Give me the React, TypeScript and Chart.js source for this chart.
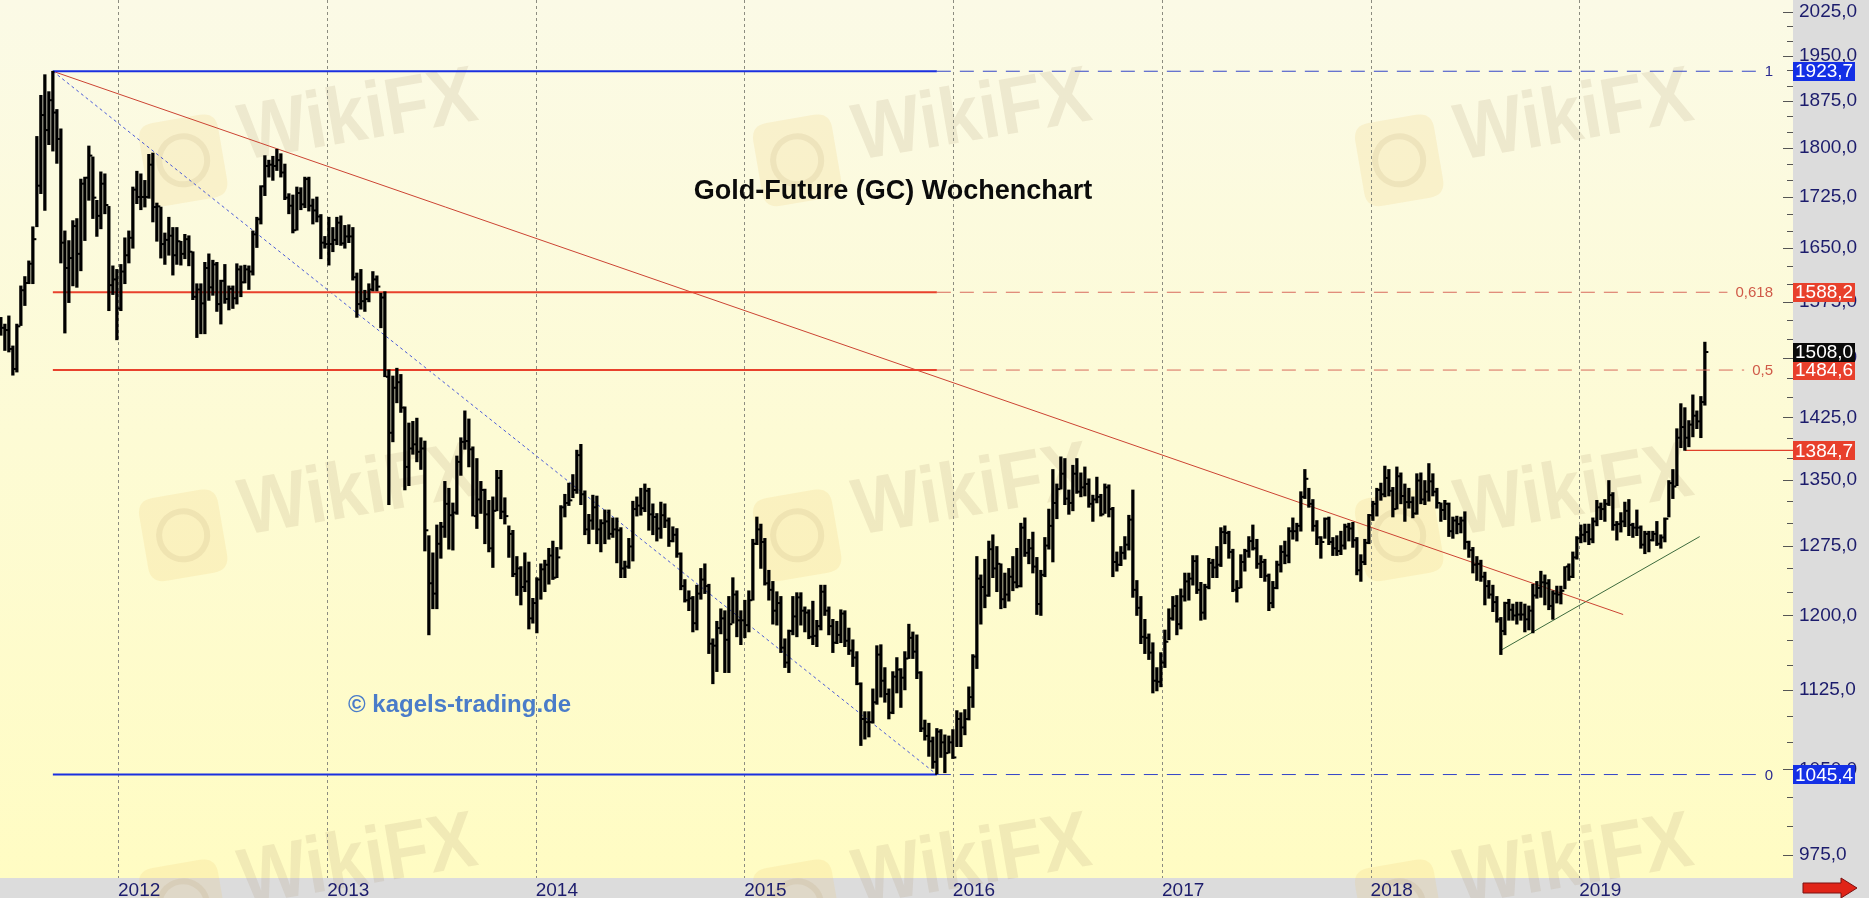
import React, { useEffect, useRef } from "react";
import { Chart, registerables } from "chart.js";

Chart.register(...registerables);

// ---------- DATA ----------
// Weekly gold future bars [high, low, close], first bar = week ending Friday 2011-06-10
const FIRST_BAR_FRIDAY = "2011-06-10";

const bars2011: number[][] = [
  [1554, 1530, 1540], [1545, 1510, 1537], [1556, 1508, 1512], [1516, 1478, 1486], [1545, 1482, 1542],
  [1597, 1543, 1591], [1610, 1570, 1601], [1632, 1600, 1628], [1681, 1600, 1663], [1818, 1681, 1742],
  [1884, 1730, 1852], [1918, 1705, 1828], [1890, 1805, 1876], [1923.7, 1795, 1856], [1861, 1776, 1814],
  [1830, 1629, 1658], [1675, 1533, 1622], [1661, 1574, 1636], [1690, 1597, 1682], [1693, 1595, 1642],
  [1752, 1618, 1745], [1755, 1661, 1754], [1803, 1720, 1788], [1786, 1693, 1724], [1720, 1667, 1697],
  [1763, 1678, 1745], [1760, 1700, 1713], [1711, 1563, 1598], [1625, 1585, 1606], [1620, 1524, 1566],
];
const bars2012: number[][] = [
  [1627, 1563, 1617], [1665, 1600, 1640], [1675, 1629, 1665], [1740, 1650, 1736], [1764, 1715, 1725],
  [1760, 1706, 1725], [1750, 1710, 1725], [1790, 1723, 1774], [1792, 1688, 1710], [1716, 1660, 1711],
  [1710, 1636, 1656], [1672, 1627, 1662], [1695, 1640, 1668], [1680, 1612, 1640], [1680, 1627, 1660],
  [1660, 1626, 1642], [1670, 1635, 1663], [1668, 1625, 1645], [1645, 1578, 1582], [1600, 1527, 1592],
  [1600, 1532, 1573], [1630, 1532, 1622], [1642, 1577, 1595], [1633, 1584, 1627], [1630, 1562, 1572],
  [1605, 1545, 1604], [1627, 1573, 1579], [1597, 1564, 1593], [1597, 1566, 1580], [1628, 1572, 1620],
  [1625, 1582, 1602], [1626, 1601, 1620], [1625, 1592, 1617], [1675, 1612, 1670], [1695, 1651, 1692],
  [1742, 1685, 1741], [1788, 1727, 1772], [1781, 1755, 1774], [1787, 1750, 1772], [1798, 1765, 1781],
  [1791, 1755, 1762], [1775, 1721, 1724], [1730, 1700, 1712], [1728, 1672, 1676], [1740, 1676, 1731],
  [1739, 1706, 1714], [1755, 1709, 1752], [1755, 1704, 1712], [1722, 1685, 1705], [1725, 1688, 1696],
  [1699, 1635, 1658], [1667, 1650, 1656], [1695, 1626, 1656],
];
const bars2013: number[][] = [
  [1680, 1645, 1662], [1695, 1655, 1687], [1697, 1654, 1657], [1683, 1650, 1667], [1684, 1658, 1667],
  [1680, 1605, 1609], [1615, 1554, 1572], [1620, 1565, 1576], [1591, 1562, 1579], [1600, 1575, 1592],
  [1617, 1590, 1606], [1611, 1590, 1596], [1587, 1540, 1581], [1589, 1476, 1476], [1485, 1321, 1406],
  [1477, 1395, 1462], [1487, 1443, 1469], [1479, 1431, 1437], [1438, 1338, 1365], [1418, 1343, 1387],
  [1420, 1380, 1392], [1424, 1371, 1383], [1400, 1362, 1387], [1396, 1269, 1292], [1286, 1180, 1234],
  [1267, 1207, 1223], [1298, 1207, 1277], [1301, 1261, 1296], [1348, 1284, 1322], [1340, 1271, 1309],
  [1323, 1270, 1312], [1378, 1310, 1371], [1400, 1355, 1395], [1433, 1386, 1396], [1423, 1365, 1386],
  [1389, 1308, 1308], [1375, 1294, 1327], [1348, 1311, 1338], [1339, 1277, 1310], [1326, 1268, 1272],
  [1330, 1251, 1314], [1361, 1314, 1352], [1361, 1305, 1313], [1329, 1299, 1308], [1297, 1262, 1288],
  [1292, 1241, 1244], [1263, 1221, 1250], [1252, 1211, 1230], [1267, 1225, 1236], [1257, 1186, 1197],
  [1218, 1192, 1213], [1240, 1182, 1238],
];
const bars2014: number[][] = [
  [1255, 1217, 1249], [1259, 1225, 1254], [1272, 1233, 1264], [1280, 1238, 1240], [1273, 1240, 1262],
  [1320, 1271, 1318], [1333, 1307, 1323], [1346, 1320, 1326], [1356, 1329, 1338], [1385, 1334, 1379],
  [1392, 1321, 1333], [1337, 1287, 1293], [1310, 1277, 1303], [1332, 1293, 1318], [1331, 1277, 1293],
  [1304, 1268, 1300], [1315, 1277, 1302], [1315, 1282, 1288], [1306, 1284, 1293], [1306, 1256, 1292],
  [1295, 1240, 1250], [1258, 1240, 1252], [1283, 1250, 1274], [1325, 1258, 1316], [1330, 1308, 1320],
  [1340, 1309, 1317], [1345, 1313, 1337], [1340, 1292, 1310], [1322, 1287, 1307], [1311, 1280, 1294],
  [1324, 1283, 1309], [1322, 1295, 1303], [1306, 1274, 1280], [1296, 1279, 1287], [1294, 1262, 1266],
  [1267, 1227, 1231], [1238, 1214, 1216], [1226, 1205, 1218], [1220, 1183, 1192], [1232, 1185, 1223],
  [1250, 1217, 1238], [1255, 1223, 1231], [1233, 1161, 1171], [1176, 1131, 1169], [1194, 1143, 1187],
  [1207, 1181, 1197], [1205, 1142, 1175], [1220, 1142, 1191], [1240, 1192, 1222], [1226, 1178, 1195],
  [1205, 1170, 1195], [1216, 1177, 1190],
];
const bars2015: number[][] = [
  [1226, 1183, 1216], [1282, 1216, 1277], [1307, 1276, 1293], [1299, 1250, 1279], [1283, 1232, 1234],
  [1248, 1216, 1227], [1236, 1191, 1205], [1225, 1190, 1213], [1220, 1162, 1167], [1176, 1147, 1152],
  [1185, 1142, 1184], [1220, 1180, 1199], [1224, 1178, 1219], [1224, 1190, 1205], [1209, 1183, 1203],
  [1206, 1176, 1178], [1215, 1170, 1179], [1195, 1168, 1189], [1232, 1185, 1225], [1232, 1200, 1205],
  [1209, 1180, 1189], [1196, 1162, 1172], [1194, 1171, 1180], [1206, 1172, 1202], [1205, 1168, 1174],
  [1187, 1160, 1164], [1175, 1148, 1157], [1163, 1130, 1131], [1132, 1072, 1097], [1104, 1078, 1094],
  [1104, 1080, 1094], [1126, 1093, 1113], [1169, 1111, 1160], [1170, 1118, 1134], [1147, 1113, 1121],
  [1126, 1097, 1103], [1143, 1102, 1138], [1157, 1122, 1145], [1146, 1108, 1137], [1163, 1125, 1156],
  [1191, 1156, 1177], [1183, 1156, 1163], [1180, 1136, 1142], [1143, 1085, 1088], [1096, 1077, 1081],
  [1093, 1062, 1076], [1080, 1051, 1057], [1088, 1045.4, 1085], [1087, 1061, 1075], [1082, 1047, 1065],
  [1081, 1065, 1075], [1087, 1060, 1061],
];
const bars2016: number[][] = [
  [1105, 1071, 1097], [1103, 1071, 1089], [1106, 1082, 1097], [1128, 1096, 1118], [1160, 1108, 1158],
  [1263, 1146, 1239], [1243, 1191, 1230], [1260, 1208, 1221], [1280, 1220, 1271], [1287, 1240, 1250],
  [1274, 1225, 1255], [1255, 1207, 1217], [1245, 1208, 1222], [1250, 1215, 1241], [1263, 1226, 1235],
  [1272, 1229, 1231], [1300, 1230, 1295], [1306, 1263, 1267], [1282, 1255, 1272], [1290, 1245, 1252],
  [1262, 1201, 1212], [1248, 1200, 1243], [1284, 1241, 1275], [1316, 1271, 1297], [1362, 1257, 1323],
  [1345, 1305, 1339], [1377, 1339, 1357], [1375, 1321, 1328], [1338, 1310, 1323], [1367, 1314, 1357],
  [1375, 1334, 1336], [1358, 1330, 1341], [1365, 1331, 1345], [1351, 1318, 1322], [1332, 1302, 1327],
  [1353, 1323, 1330], [1333, 1308, 1310], [1345, 1311, 1341], [1344, 1307, 1316], [1318, 1241, 1257],
  [1268, 1247, 1254], [1274, 1253, 1267], [1285, 1260, 1276], [1309, 1270, 1304], [1338, 1219, 1227],
  [1237, 1200, 1208], [1220, 1171, 1178], [1196, 1161, 1177], [1181, 1155, 1162], [1172, 1122, 1134],
  [1147, 1124, 1133], [1162, 1128, 1152],
];
const bars2017: number[][] = [
  [1185, 1147, 1173], [1207, 1175, 1197], [1220, 1195, 1210], [1221, 1180, 1191], [1228, 1186, 1220],
  [1245, 1215, 1236], [1245, 1216, 1239], [1264, 1232, 1258], [1264, 1223, 1227], [1235, 1195, 1203],
  [1233, 1196, 1230], [1261, 1228, 1256], [1260, 1240, 1251], [1274, 1240, 1254], [1295, 1252, 1290],
  [1297, 1277, 1289], [1291, 1261, 1268], [1271, 1225, 1227], [1237, 1214, 1229], [1265, 1229, 1257],
  [1271, 1247, 1269], [1285, 1262, 1280], [1298, 1270, 1272], [1282, 1250, 1255], [1264, 1240, 1257],
  [1260, 1236, 1242], [1244, 1205, 1213], [1236, 1208, 1229], [1258, 1228, 1254], [1275, 1246, 1268],
  [1280, 1255, 1264], [1295, 1256, 1291], [1306, 1282, 1291], [1300, 1280, 1297], [1336, 1291, 1330],
  [1362, 1328, 1351], [1340, 1318, 1322], [1327, 1291, 1297], [1303, 1276, 1284], [1285, 1261, 1279],
  [1306, 1283, 1305], [1307, 1276, 1279], [1284, 1264, 1272], [1286, 1264, 1269], [1291, 1265, 1275],
  [1299, 1271, 1296], [1300, 1280, 1294], [1301, 1273, 1281], [1284, 1243, 1248], [1265, 1236, 1257],
  [1282, 1254, 1278], [1310, 1277, 1309],
];
const bars2018: number[][] = [
  [1325, 1303, 1322], [1340, 1308, 1338], [1346, 1326, 1333], [1366, 1330, 1352], [1362, 1331, 1337],
  [1341, 1307, 1316], [1365, 1316, 1354], [1358, 1322, 1331], [1345, 1302, 1324], [1340, 1317, 1324],
  [1330, 1306, 1311], [1357, 1310, 1349], [1358, 1322, 1327], [1349, 1321, 1336], [1369, 1325, 1348],
  [1357, 1331, 1336], [1340, 1317, 1323], [1323, 1302, 1315], [1326, 1304, 1322], [1323, 1285, 1291],
  [1307, 1283, 1303], [1308, 1288, 1299], [1307, 1289, 1303], [1313, 1271, 1279], [1280, 1262, 1270],
  [1273, 1245, 1254], [1263, 1237, 1255], [1259, 1236, 1241], [1246, 1211, 1231], [1237, 1218, 1222],
  [1232, 1204, 1214], [1220, 1193, 1196], [1198, 1160, 1184], [1214, 1180, 1213], [1217, 1195, 1206],
  [1212, 1195, 1200], [1214, 1191, 1201], [1214, 1195, 1201], [1212, 1183, 1196], [1210, 1185, 1205],
  [1233, 1182, 1221], [1236, 1218, 1229], [1247, 1219, 1235], [1243, 1211, 1234], [1238, 1206, 1210],
  [1226, 1196, 1223], [1231, 1213, 1222], [1231, 1212, 1226], [1252, 1228, 1252], [1255, 1237, 1241],
  [1268, 1240, 1262], [1285, 1260, 1283],
];
const bars2019: number[][] = [
  [1298, 1278, 1287], [1299, 1279, 1290], [1299, 1276, 1282], [1306, 1278, 1302], [1326, 1297, 1318],
  [1323, 1304, 1316], [1327, 1302, 1322], [1349, 1320, 1332], [1335, 1292, 1298], [1302, 1281, 1299],
  [1312, 1290, 1302], [1324, 1296, 1314], [1327, 1286, 1298], [1300, 1284, 1295], [1315, 1286, 1295],
  [1297, 1272, 1276], [1291, 1266, 1288], [1291, 1268, 1281], [1291, 1280, 1288], [1302, 1275, 1277],
  [1287, 1272, 1284], [1306, 1279, 1305], [1349, 1307, 1346], [1362, 1328, 1342], [1411, 1343, 1400],
  [1442, 1388, 1413], [1437, 1384.7, 1400], [1421, 1389, 1416], [1453, 1401, 1427], [1433, 1411, 1420],
  [1451, 1400, 1444], [1521, 1440, 1508],
];

const yearLabels = ["2012", "2013", "2014", "2015", "2016", "2017", "2018", "2019"];
const yLabelValues = [975, 1050, 1125, 1200, 1275, 1350, 1425, 1500, 1575, 1650, 1725, 1800, 1875, 1950, 2025];
const yMinorValues = [1000, 1025, 1075, 1100, 1150, 1175, 1225, 1250, 1300, 1325, 1375, 1400, 1450, 1475,
  1525, 1550, 1600, 1625, 1675, 1700, 1750, 1775, 1825, 1850, 1900, 1925, 1975, 2000];

// Fibonacci retracement (peak 2011 -> low 2015)
const fibRatios = ["1", "0,618", "0,5", "0"];
const fibPrices = [1923.7, 1588.2, 1484.6, 1045.4];
const swingHigh = { date: "2011-09-09", price: 1923.7 };
const swingLow = { date: "2015-12-04", price: 1045.4 };
// trend lines
const resistanceLine = [{ date: "2011-09-09", price: 1923.7 }, { date: "2019-03-19", price: 1201 }];
const supportLine = [{ date: "2018-08-16", price: 1164 }, { date: "2019-07-31", price: 1285 }];
const supportLevel = { date: "2019-07-05", price: 1384.7 };
// price boxes on the right axis
const axisBoxValues = [1923.7, 1588.2, 1484.6, 1508.0, 1384.7, 1045.4];
const axisBoxKinds = ["blue", "red", "red", "black", "red", "blue"];

const TITLE = "Gold-Future (GC) Wochenchart";
const COPYRIGHT = "© kagels-trading.de";

// ---------- helpers ----------
const DAY = 86400000;
const ORIGIN = Date.UTC(2012, 0, 1);
const toX = (d: string) => (Date.parse(d + "T00:00:00Z") - ORIGIN) / (7 * DAY);
const fmt = (v: number) => v.toFixed(1).replace(".", ",");

const allBars = [...bars2011, ...bars2012, ...bars2013, ...bars2014, ...bars2015, ...bars2016, ...bars2017, ...bars2018, ...bars2019];
const x0 = toX(FIRST_BAR_FRIDAY);
const barData = allBars.map((b, i) => ({ x: x0 + i, y: [b[1], b[0]] }));
const closes = allBars.map((b) => b[2]);
const yearTicks = yearLabels.map((y) => toX(y + "-01-01"));

const FONT = '"Liberation Sans", Arial, sans-serif';
const BOX_COLORS: Record<string, string> = { blue: "#1430e6", red: "#e8402c", black: "#0a0a0a" };
const FIB_SOLID = ["#1a2fe0", "#e8412c", "#e8412c", "#1a2fe0"];
const FIB_DASH = ["#3344c8", "#d86a5c", "#d86a5c", "#3344c8"];
const FIB_TEXT = ["#2a2a90", "#d05a48", "#d05a48", "#2a2a90"];

function roundRect(ctx: CanvasRenderingContext2D, x: number, y: number, w: number, h: number, r: number) {
  ctx.beginPath();
  ctx.moveTo(x + r, y);
  ctx.lineTo(x + w - r, y);
  ctx.quadraticCurveTo(x + w, y, x + w, y + r);
  ctx.lineTo(x + w, y + h - r);
  ctx.quadraticCurveTo(x + w, y + h, x + w - r, y + h);
  ctx.lineTo(x + r, y + h);
  ctx.quadraticCurveTo(x, y + h, x, y + h - r);
  ctx.lineTo(x, y + r);
  ctx.quadraticCurveTo(x, y, x + r, y);
  ctx.closePath();
}

function drawWatermark(ctx: CanvasRenderingContext2D, x: number, y: number) {
  ctx.save();
  ctx.translate(x, y);
  ctx.rotate(-0.17);
  ctx.fillStyle = "rgba(236, 200, 110, 0.18)";
  roundRect(ctx, -100, -52, 80, 84, 16);
  ctx.fill();
  ctx.strokeStyle = "rgba(180, 150, 100, 0.14)";
  ctx.lineWidth = 6;
  ctx.beginPath();
  ctx.arc(-60, -10, 24, 0, Math.PI * 2);
  ctx.stroke();
  ctx.scale(0.9, 1);
  ctx.fillStyle = "rgba(170, 150, 115, 0.17)";
  ctx.font = `bold 80px ${FONT}`;
  ctx.textBaseline = "alphabetic";
  ctx.textAlign = "left";
  ctx.fillText("WikiFX", 0, 0);
  ctx.restore();
}

const backgroundPlugin = {
  id: "bgPlugin",
  beforeDraw(chart: any) {
    const { ctx, chartArea: a, width, height } = chart;
    ctx.save();
    ctx.fillStyle = "#dcdcdc";
    ctx.fillRect(0, 0, width, height);
    const g = ctx.createLinearGradient(0, a.top, 0, a.bottom);
    g.addColorStop(0, "#fbfae6");
    g.addColorStop(1, "#fffcc3");
    ctx.fillStyle = g;
    ctx.fillRect(a.left, a.top, a.right - a.left, a.bottom - a.top);
    ctx.beginPath();
    ctx.rect(a.left, a.top, a.right - a.left, height - a.top);
    ctx.clip();
    const cols = [244, 858, 1460];
    const rows = [160, 535, 905];
    rows.forEach((ry) => cols.forEach((cx) => drawWatermark(ctx, cx, ry)));
    ctx.restore();

    // year grid lines
    const xs = chart.scales.x;
    ctx.save();
    ctx.strokeStyle = "#8c8c80";
    ctx.lineWidth = 1;
    ctx.setLineDash([3, 3]);
    xs.ticks.forEach((t: any) => {
      const px = Math.round(xs.getPixelForValue(t.value)) + 0.5;
      ctx.beginPath();
      ctx.moveTo(px, a.top);
      ctx.lineTo(px, a.bottom);
      ctx.stroke();
    });
    ctx.restore();
  },
};

const ohlcTickPlugin = {
  id: "ohlcTicks",
  afterDatasetsDraw(chart: any) {
    const { ctx, chartArea: a } = chart;
    const ys = chart.scales.y;
    const meta = chart.getDatasetMeta(0);
    ctx.save();
    ctx.beginPath();
    ctx.rect(a.left, a.top, a.right - a.left, a.bottom - a.top);
    ctx.clip();
    ctx.fillStyle = "#000";
    meta.data.forEach((el: any, i: number) => {
      const y = ys.getPixelForValue(closes[i]);
      ctx.fillRect(el.x + 1, y - 1, 2.5, 2);
    });
    ctx.restore();
  },
};

const annotationPlugin = {
  id: "annotations",
  afterDraw(chart: any) {
    const { ctx, chartArea: a } = chart;
    const xs = chart.scales.x;
    const ys = chart.scales.y;
    ctx.save();

    // axis tick marks (inside plot, at right edge)
    ctx.strokeStyle = "#555";
    ctx.lineWidth = 1;
    yLabelValues.forEach((v) => {
      const y = Math.round(ys.getPixelForValue(v)) + 0.5;
      ctx.beginPath();
      ctx.moveTo(a.right - 10, y);
      ctx.lineTo(a.right, y);
      ctx.stroke();
    });
    yMinorValues.forEach((v) => {
      const y = Math.round(ys.getPixelForValue(v)) + 0.5;
      ctx.beginPath();
      ctx.moveTo(a.right - 6, y);
      ctx.lineTo(a.right, y);
      ctx.stroke();
    });

    // fib dashed extensions + ratio labels
    const xLow = xs.getPixelForValue(toX(swingLow.date));
    ctx.font = `15px ${FONT}`;
    ctx.textBaseline = "middle";
    ctx.textAlign = "right";
    const labelRight = a.right - 20;
    fibPrices.forEach((p, i) => {
      const y = ys.getPixelForValue(p);
      const tw = ctx.measureText(fibRatios[i]).width;
      ctx.strokeStyle = FIB_DASH[i];
      ctx.lineWidth = 1;
      ctx.setLineDash([14, 9]);
      ctx.beginPath();
      ctx.moveTo(xLow, y);
      ctx.lineTo(labelRight - tw - 8, y);
      ctx.stroke();
      ctx.setLineDash([]);
      ctx.fillStyle = FIB_TEXT[i];
      ctx.fillText(fibRatios[i], labelRight, y + 1);
    });

    // price boxes on the axis
    ctx.font = `19px ${FONT}`;
    ctx.textAlign = "left";
    ctx.textBaseline = "middle";
    axisBoxValues.forEach((v, i) => {
      const y = ys.getPixelForValue(v);
      ctx.fillStyle = BOX_COLORS[axisBoxKinds[i]];
      ctx.fillRect(a.right, Math.round(y - 9.5), 62, 19);
      ctx.fillStyle = "#ffffff";
      ctx.fillText(fmt(v), a.right + 2, y + 1);
    });

    // title
    ctx.fillStyle = "#0b0b0b";
    ctx.font = `bold 27px ${FONT}`;
    ctx.textAlign = "center";
    ctx.textBaseline = "alphabetic";
    ctx.fillText(TITLE, 893, 199);

    // copyright
    ctx.fillStyle = "#4a7cc9";
    ctx.font = `bold 24px ${FONT}`;
    ctx.textAlign = "left";
    ctx.fillText(COPYRIGHT, 348, 712);

    // red arrow in the bottom right corner
    const ax = a.right + 10;
    const ay = a.bottom + 10;
    ctx.fillStyle = "#e02418";
    ctx.strokeStyle = "#7a1010";
    ctx.lineWidth = 1;
    ctx.beginPath();
    ctx.moveTo(ax, ay - 5);
    ctx.lineTo(ax + 38, ay - 5);
    ctx.lineTo(ax + 38, ay - 10);
    ctx.lineTo(ax + 54, ay);
    ctx.lineTo(ax + 38, ay + 10);
    ctx.lineTo(ax + 38, ay + 5);
    ctx.lineTo(ax, ay + 5);
    ctx.closePath();
    ctx.fill();
    ctx.stroke();

    ctx.restore();
  },
};

export default function App() {
  const ref = useRef<HTMLCanvasElement | null>(null);

  useEffect(() => {
    document.body.style.margin = "0";
    const canvas = ref.current;
    if (!canvas) return;

    const hx = toX(swingHigh.date);
    const lx = toX(swingLow.date);

    const lineDs = (data: { x: number; y: number }[], color: string, width: number, dash: number[] = []) => ({
      type: "line" as const,
      data,
      borderColor: color,
      borderWidth: width,
      borderDash: dash,
      pointRadius: 0,
      fill: false,
      tension: 0,
      order: 2,
    });

    const datasets: any[] = [
      {
        type: "bar",
        data: barData,
        backgroundColor: "#000000",
        borderWidth: 0,
        barThickness: 2.6,
        grouped: false,
        order: 0,
      },
      ...fibPrices.map((p, i) => lineDs([{ x: hx, y: p }, { x: lx, y: p }], FIB_SOLID[i], 2)),
      lineDs([{ x: hx, y: swingHigh.price }, { x: lx, y: swingLow.price }], "#4a5ad8", 1, [3, 3]),
      lineDs(resistanceLine.map((p) => ({ x: toX(p.date), y: p.price })), "#cc4433", 1),
      lineDs(supportLine.map((p) => ({ x: toX(p.date), y: p.price })), "#3d6b3d", 1),
      lineDs([{ x: toX(supportLevel.date), y: supportLevel.price }, { x: 420, y: supportLevel.price }], "#e0402a", 1.3),
    ];

    const chart = new Chart(canvas, {
      type: "bar",
      data: { datasets },
      options: {
        animation: false,
        responsive: false,
        devicePixelRatio: 1,
        layout: { padding: 0 },
        plugins: { legend: { display: false }, tooltip: { enabled: false }, title: { display: false } },
        scales: {
          x: {
            type: "linear",
            min: -29.5,
            max: 418.75,
            offset: false,
            grid: { display: false, drawTicks: false },
            border: { display: false },
            afterBuildTicks: (scale: any) => {
              scale.ticks = yearTicks.map((v) => ({ value: v }));
            },
            afterFit: (scale: any) => {
              scale.height = 20;
              scale.paddingLeft = 0;
              scale.paddingRight = 0;
            },
            ticks: {
              autoSkip: false,
              maxRotation: 0,
              align: "start",
              padding: 1,
              color: "#1c1c6c",
              font: { family: FONT, size: 19 },
              callback: (value: any) => {
                const idx = yearTicks.findIndex((t) => Math.abs(t - Number(value)) < 1e-6);
                return idx >= 0 ? yearLabels[idx] : "";
              },
            },
          },
          y: {
            type: "logarithmic",
            position: "right",
            min: 955.7,
            max: 2046.3,
            grid: { display: false, drawTicks: false },
            border: { display: false },
            afterBuildTicks: (scale: any) => {
              scale.ticks = yLabelValues.map((v) => ({ value: v }));
            },
            afterFit: (scale: any) => {
              scale.width = 76;
              scale.paddingTop = 0;
              scale.paddingBottom = 0;
            },
            ticks: {
              autoSkip: false,
              padding: 6,
              color: "#1c1c6c",
              font: { family: FONT, size: 19 },
              callback: (value: any) => fmt(Number(value)),
            },
          },
        },
      },
      plugins: [backgroundPlugin, ohlcTickPlugin, annotationPlugin],
    } as any);

    return () => chart.destroy();
  }, []);

  return (
    <div style={{ width: 1869, height: 898 }}>
      <canvas ref={ref} width={1869} height={898} style={{ display: "block", width: 1869, height: 898 }} />
    </div>
  );
}
